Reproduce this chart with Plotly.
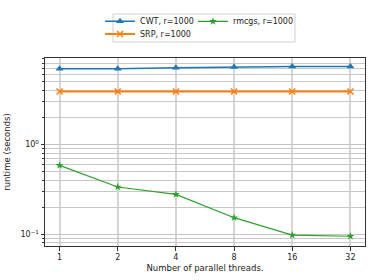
import plotly.graph_objects as go
import numpy as np

threads = [1, 2, 4, 8, 16, 32]
cwt = [7.0, 7.0, 7.15, 7.3, 7.4, 7.4]
srp = [3.9, 3.9, 3.9, 3.9, 3.9, 3.9]
rmcgs = [0.585, 0.336, 0.278, 0.153, 0.098, 0.095]
minor_ticks = [0.08, 0.09, 0.2, 0.3, 0.4, 0.5, 0.6, 0.7, 0.8, 0.9, 2, 3, 4, 5, 6, 7, 8, 9]

xpos = list(range(len(threads)))
yrange = [float(np.log10(0.074)), float(np.log10(9.2))]
fig = go.Figure()

# invisible helper trace so the minor-grid overlay axis is drawn
fig.add_trace(go.Scatter(x=xpos, y=srp, mode='lines', line=dict(width=0), opacity=0,
                         showlegend=False, hoverinfo='skip', yaxis='y2'))

fig.add_trace(go.Scatter(x=xpos, y=cwt, mode='lines+markers', name='CWT, r=1000',
                         line=dict(color='#1f77b4', width=1.5),
                         marker=dict(symbol='triangle-up', size=7, color='#1f77b4'),
                         legend='legend'))
fig.add_trace(go.Scatter(x=xpos, y=srp, mode='lines+markers', name='SRP, r=1000',
                         line=dict(color='#ff7f0e', width=2),
                         marker=dict(symbol='x-thin', size=6, color='#ff7f0e', line=dict(color='#ff7f0e', width=1.5)),
                         legend='legend2'))
fig.add_trace(go.Scatter(x=xpos, y=rmcgs, mode='lines+markers', name='rmcgs, r=1000',
                         line=dict(color='#2ca02c', width=1.2),
                         marker=dict(symbol='star', size=6, color='#2ca02c'),
                         legend='legend3'))

leg_common = dict(xanchor='left', yanchor='middle', font=dict(size=8, color='#222'),
                  bgcolor='rgba(0,0,0,0)', borderwidth=0)

fig.update_layout(
    width=374, height=280,
    margin=dict(l=45, r=9, t=58, b=34, autoexpand=False),
    plot_bgcolor='white', paper_bgcolor='white',
    font=dict(family='DejaVu Sans', size=8, color='#222'),
    showlegend=True,
    legend=dict(x=0.172, y=1.195, **leg_common),
    legend2=dict(x=0.172, y=1.128, **leg_common),
    legend3=dict(x=0.4625, y=1.195, **leg_common),
    xaxis=dict(range=[-0.25, 5.25], tickvals=xpos, ticktext=[str(t) for t in threads],
               showgrid=True, gridcolor='#d6d6d6', gridwidth=2, ticks='outside', ticklen=3.5,
               tickcolor='#333', showline=True, linecolor='#333', mirror=True, zeroline=False,
               title=dict(text='Number of parallel threads.', font=dict(size=8.5), standoff=3)),
    yaxis=dict(type='log', range=yrange,
               tickmode='array', tickvals=[0.1, 1], ticktext=['10<sup>\u22121</sup>', '10<sup>0</sup>'],
               showgrid=True, gridcolor='#c4c4c4', gridwidth=1, ticks='outside', ticklen=3.5,
               tickcolor='#333', showline=True, linecolor='#333', mirror=True, zeroline=False,
               title=dict(text='runtime (seconds)', font=dict(size=8.5), standoff=8)),
    yaxis2=dict(type='log', range=yrange, overlaying='y', side='left',
                tickmode='array', tickvals=minor_ticks, showticklabels=False,
                showgrid=True, gridcolor='#c8c8c8', gridwidth=1, ticks='outside', ticklen=2,
                tickcolor='#333', showline=False, zeroline=False),
)

fig.add_shape(type='rect', xref='paper', yref='paper', x0=0.2125, x1=0.7813, y0=1.085, y1=1.234,
              line=dict(color='#d0d0d0', width=1), fillcolor='rgba(0,0,0,0)', layer='below')

fig.write_html('out.html', config={'displayModeBar': False},
               post_script="document.body.style.margin='0';")
